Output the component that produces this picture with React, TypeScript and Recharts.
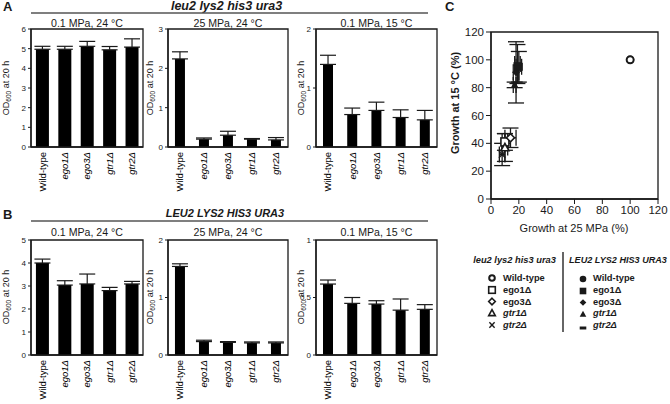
import React from 'react';
import { BarChart, Bar, XAxis, YAxis, ErrorBar, ReferenceArea, ScatterChart, Scatter } from 'recharts';

// ---------- data ----------
const strains = ['Wild-type', 'ego1Δ', 'ego3Δ', 'gtr1Δ', 'gtr2Δ'];

// A: leu2 lys2 his3 ura3
const a24 = [4.97, 4.97, 5.12, 4.94, 5.08];
const a24Err = [0.15, 0.15, 0.25, 0.17, 0.42];
const a25 = [2.24, 0.2, 0.3, 0.2, 0.18];
const a25Err = [0.18, 0.03, 0.1, 0.015, 0.06];
const a15 = [1.4, 0.55, 0.62, 0.5, 0.46];
const a15Err = [0.155, 0.11, 0.14, 0.13, 0.16];
// B: LEU2 LYS2 HIS3 URA3
const b24 = [4.0, 3.04, 3.09, 2.8, 3.09];
const b24Err = [0.17, 0.19, 0.43, 0.14, 0.11];
const b25 = [1.54, 0.233, 0.22, 0.21, 0.21];
const b25Err = [0.046, 0.024, 0.013, 0.017, 0.017];
const b15 = [0.617, 0.449, 0.443, 0.39, 0.397];
const b15Err = [0.035, 0.051, 0.029, 0.097, 0.041];

const ticksA24 = [0, 1, 2, 3, 4, 5, 6];
const ticksA25 = [0, 1, 2, 3];
const ticksA15 = [0, 1, 2];
const ticksB24 = [0, 1, 2, 3, 4, 5];
const ticksB25 = [0, 1, 2];
const ticksB15 = [0, 0.5, 1];

const titles = ['0.1 MPa, 24 °C', '25 MPa, 24 °C', '0.1 MPa, 15 °C'];

// C: growth relative to wild-type (%)
const openX = [100, 10, 14, 10, 8];
const openY = [100, 41, 44, 37, 32];
const openErrX = [0, 2, 4, 2, 2];
const openErrY = [0, 6, 7, 10, 8];
const filledX = [100, 20, 18, 17, 19];
const filledY = [100, 95, 91, 82, 97];
const filledErrX = [0, 2, 2, 1, 2];
const filledErrY = [0, 11, 22, 2, 14];
const scatterTicks = [0, 20, 40, 60, 80, 100, 120];

const openKinds = ['oCircle', 'oSquare', 'oDiamond', 'oTriangle', 'cross'];
const filledKinds = ['fCircle', 'fSquare', 'fDiamond', 'fTriangle', 'fDash'];

const FONT = '"Liberation Sans", Arial, Helvetica, sans-serif';
const INK = '#1a1a1a';

// ---------- markers ----------
function Marker({ kind, cx, cy, s = 4 }: { kind: string; cx: number; cy: number; s?: number }) {
  const sw = 1.6;
  switch (kind) {
    case 'oCircle':
      return <circle cx={cx} cy={cy} r={s - 0.5} fill="#fff" stroke={INK} strokeWidth={2} />;
    case 'oSquare':
      return <rect x={cx - s} y={cy - s} width={2 * s} height={2 * s} fill="#fff" stroke={INK} strokeWidth={sw} />;
    case 'oDiamond':
      return <polygon points={`${cx},${cy - s} ${cx + s},${cy} ${cx},${cy + s} ${cx - s},${cy}`} fill="#fff" stroke={INK} strokeWidth={sw} />;
    case 'oTriangle':
      return <polygon points={`${cx},${cy - s} ${cx + s},${cy + s * 0.8} ${cx - s},${cy + s * 0.8}`} fill="#fff" stroke={INK} strokeWidth={sw} />;
    case 'cross':
      return (
        <g stroke={INK} strokeWidth={1.4}>
          <line x1={cx - s * 0.8} y1={cy - s * 0.8} x2={cx + s * 0.8} y2={cy + s * 0.8} />
          <line x1={cx - s * 0.8} y1={cy + s * 0.8} x2={cx + s * 0.8} y2={cy - s * 0.8} />
        </g>
      );
    case 'fCircle':
      return <circle cx={cx} cy={cy} r={s} fill={INK} />;
    case 'fSquare':
      return <rect x={cx - s} y={cy - s} width={2 * s} height={2 * s} fill={INK} />;
    case 'fDiamond':
      return <polygon points={`${cx},${cy - s} ${cx + s},${cy} ${cx},${cy + s} ${cx - s},${cy}`} fill={INK} />;
    case 'fTriangle':
      return <polygon points={`${cx},${cy - s} ${cx + s},${cy + s * 0.8} ${cx - s},${cy + s * 0.8}`} fill={INK} />;
    case 'fDash':
      return <rect x={cx - s} y={cy - s * 0.45} width={2 * s} height={s * 0.9} fill={INK} />;
    default:
      return null;
  }
}

// ---------- bar panels ----------
const StrainTick = (props: any) => {
  const { x, y, payload } = props;
  const italic = payload.value !== 'Wild-type';
  return (
    <g transform={`translate(${x},${y})`}>
      <text transform="rotate(-90)" x={-5} y={0} dy="0.35em" textAnchor="end" fontSize={9.5} fill="#000"
        fontStyle={italic ? 'italic' : 'normal'} fontFamily={FONT}>
        {payload.value}
      </text>
    </g>
  );
};

function BarPanel(props: {
  left: number; top: number; width: number; height: number;
  values: number[]; errors: number[]; ticks: number[]; gap: string;
}) {
  const { left, top, width, height, values, errors, ticks, gap } = props;
  const data = strains.map((s, i) => ({ name: s, v: values[i], e: [0, errors[i]] }));
  const yw = 30, mt = 3, mr = 3, xh = 60;
  const W = yw + width + mr;
  const H = mt + height + xh;
  const yMax = ticks[ticks.length - 1];
  return (
    <div style={{ position: 'absolute', left: left - yw, top: top - mt, width: W, height: H }}>
      <BarChart width={W} height={H} data={data} margin={{ top: mt, right: mr, bottom: 0, left: 0 }} barCategoryGap={gap}>
        <XAxis dataKey="name" height={xh} interval={0} tickLine={false} tickSize={0} tickMargin={0}
          axisLine={{ stroke: INK, strokeWidth: 1.3 }} tick={<StrainTick />} />
        <YAxis width={yw} type="number" domain={[0, yMax]} ticks={ticks} interval={0} tickSize={3} tickMargin={2}
          axisLine={{ stroke: INK, strokeWidth: 1.3 }} tickLine={{ stroke: INK }}
          tick={{ fontSize: 8, fill: INK, fontFamily: FONT }} />
        <ReferenceArea y1={0} y2={yMax} fill="none" fillOpacity={0} stroke={INK} strokeWidth={1.3} ifOverflow="extendDomain" />
        <Bar dataKey="v" fill="#000" isAnimationActive={false}>
          <ErrorBar dataKey="e" width={8} stroke={INK} strokeWidth={1.2} direction="y" />
        </Bar>
      </BarChart>
    </div>
  );
}

// ---------- scatter panel ----------
function ScatterPanel() {
  const pl = 491, pt = 32, pw = 167, ph = 167;
  const yw = 45, mt = 9, mr = 12, xh = 40;
  const W = yw + pw + mr;
  const H = mt + ph + xh;
  const filled = filledX.map((x, i) => ({ x, y: filledY[i], ex: filledErrX[i], ey: filledErrY[i], kind: filledKinds[i] }));
  const open = openX.map((x, i) => ({ x, y: openY[i], ex: openErrX[i], ey: openErrY[i], kind: openKinds[i] }));
  const all = [...filled, ...open];
  return (
    <div style={{ position: 'absolute', left: pl - yw, top: pt - mt, width: W, height: H }}>
      <ScatterChart width={W} height={H} margin={{ top: mt, right: mr, bottom: 0, left: 0 }}>
        <XAxis type="number" dataKey="x" domain={[0, 120]} ticks={scatterTicks} interval={0} height={xh}
          tickSize={5} tickMargin={2} axisLine={{ stroke: INK, strokeWidth: 1.3 }} tickLine={{ stroke: INK }}
          tick={{ fontSize: 11.5, fill: INK, fontFamily: FONT }} />
        <YAxis type="number" dataKey="y" domain={[0, 120]} ticks={scatterTicks} interval={0} width={yw}
          tickSize={5} tickMargin={2} axisLine={{ stroke: INK, strokeWidth: 1.3 }} tickLine={{ stroke: INK }}
          tick={{ fontSize: 11.5, fill: INK, fontFamily: FONT }} />
        <ReferenceArea x1={0} x2={120} y1={0} y2={120} fill="none" fillOpacity={0} stroke={INK} strokeWidth={1.3} />
        {all.map((p, i) => (
          <Scatter key={i} data={[p]} isAnimationActive={false}
            shape={(sp: any) => <Marker kind={p.kind} cx={sp.cx} cy={sp.cy} s={4} />}>
            {p.ey > 0 ? <ErrorBar dataKey="ey" direction="y" width={8} stroke={INK} strokeWidth={1.3} /> : null}
            {p.ex > 0 ? <ErrorBar dataKey="ex" direction="x" width={8} stroke={INK} strokeWidth={1.3} /> : null}
          </Scatter>
        ))}
      </ScatterChart>
    </div>
  );
}

// ---------- overlay text ----------
function ODLabel({ cx, cy }: { cx: number; cy: number }) {
  return (
    <text transform={`translate(${cx + 3},${cy}) rotate(-90)`} textAnchor="middle" fontSize={9} fill={INK} fontFamily={FONT}>
      OD<tspan fontSize={6.5} dy={2}>600</tspan><tspan dy={-2}> at 20 h</tspan>
    </text>
  );
}

const cols = [
  { left: 31, width: 112, gap: '22%' },
  { left: 168, width: 120, gap: '29%' },
  { left: 316, width: 121, gap: '29%' },
];
const rowA = { top: 29, height: 118 };
const rowB = { top: 239.5, height: 115 };
const odLabelX = [6, 150, 301];

export default function App() {
  const legendRowsY = [278, 290, 301.5, 313, 325];
  const legendStyle = (i: number) => (i >= 3 ? 'italic' : 'normal');
  return (
    <div style={{ position: 'absolute', left: 0, top: 0, width: 670, height: 404, background: '#fff', fontFamily: FONT, overflow: 'hidden' }}>
      <BarPanel left={cols[0].left} top={rowA.top} width={cols[0].width} height={rowA.height} values={a24} errors={a24Err} ticks={ticksA24} gap={cols[0].gap} />
      <BarPanel left={cols[1].left} top={rowA.top} width={cols[1].width} height={rowA.height} values={a25} errors={a25Err} ticks={ticksA25} gap={cols[1].gap} />
      <BarPanel left={cols[2].left} top={rowA.top} width={cols[2].width} height={rowA.height} values={a15} errors={a15Err} ticks={ticksA15} gap={cols[2].gap} />
      <BarPanel left={cols[0].left} top={rowB.top} width={cols[0].width} height={rowB.height} values={b24} errors={b24Err} ticks={ticksB24} gap={cols[0].gap} />
      <BarPanel left={cols[1].left} top={rowB.top} width={cols[1].width} height={rowB.height} values={b25} errors={b25Err} ticks={ticksB25} gap={cols[1].gap} />
      <BarPanel left={cols[2].left} top={rowB.top} width={cols[2].width} height={rowB.height} values={b15} errors={b15Err} ticks={ticksB15} gap={cols[2].gap} />
      <ScatterPanel />
      <svg width={670} height={404} style={{ position: 'absolute', left: 0, top: 0, pointerEvents: 'none' }} fontFamily={FONT}>
        {/* panel letters */}
        <text x={3} y={11} fontSize={13} fontWeight="bold" fill={INK}>A</text>
        <text x={3} y={219} fontSize={13} fontWeight="bold" fill={INK}>B</text>
        <text x={445} y={11} fontSize={13} fontWeight="bold" fill={INK}>C</text>
        {/* group headers */}
        <text x={226.5} y={9.5} fontSize={12.5} fontWeight="bold" fontStyle="italic" textAnchor="middle" fill={INK}>leu2 lys2 his3 ura3</text>
        <line x1={31} y1={13} x2={428} y2={13} stroke="#555" strokeWidth={1.4} />
        <text x={225} y={217} fontSize={11} fontWeight="bold" fontStyle="italic" textAnchor="middle" fill={INK}>LEU2 LYS2 HIS3 URA3</text>
        <line x1={31} y1={221} x2={428} y2={221} stroke="#555" strokeWidth={1.4} />
        {/* panel titles & y labels */}
        {cols.map((c, i) => (
          <g key={i}>
            <text x={c.left + c.width / 2} y={27} fontSize={10.6} textAnchor="middle" fill={INK}>{titles[i]}</text>
            <text x={c.left + c.width / 2} y={235.5} fontSize={10.6} textAnchor="middle" fill={INK}>{titles[i]}</text>
            <ODLabel cx={odLabelX[i]} cy={rowA.top + rowA.height / 2} />
            <ODLabel cx={odLabelX[i]} cy={rowB.top + rowB.height / 2} />
          </g>
        ))}
        {/* scatter axis labels */}
        <text transform="translate(459,103) rotate(-90)" textAnchor="middle" fontSize={11} fontWeight="bold" fill={INK}>Growth at 15 °C (%)</text>
        <text x={574} y={232} textAnchor="middle" fontSize={11} fill={INK}>Growth at 25 MPa (%)</text>
        {/* legend */}
        <text x={514.5} y={263} textAnchor="middle" fontSize={9.3} fontWeight="bold" fontStyle="italic" fill={INK}>leu2 lys2 his3 ura3</text>
        <text x={618} y={263} textAnchor="middle" fontSize={9.1} fontWeight="bold" fontStyle="italic" fill={INK}>LEU2 LYS2 HIS3 URA3</text>
        <line x1={563} y1={252} x2={563} y2={332} stroke="#333" strokeWidth={1.5} />
        {strains.map((s, i) => (
          <g key={s}>
            <Marker kind={openKinds[i]} cx={492} cy={legendRowsY[i]} s={3.3} />
            <text x={503} y={legendRowsY[i] + 3.3} fontSize={9.3} fontWeight="bold" fontStyle={legendStyle(i)} fill={INK}>{s}</text>
            <Marker kind={filledKinds[i]} cx={583} cy={legendRowsY[i] + (i === 4 ? 3 : 1)} s={3.3} />
            <text x={593} y={legendRowsY[i] + 3.3} fontSize={9.3} fontWeight="bold" fontStyle={legendStyle(i)} fill={INK}>{s}</text>
          </g>
        ))}
      </svg>
    </div>
  );
}
